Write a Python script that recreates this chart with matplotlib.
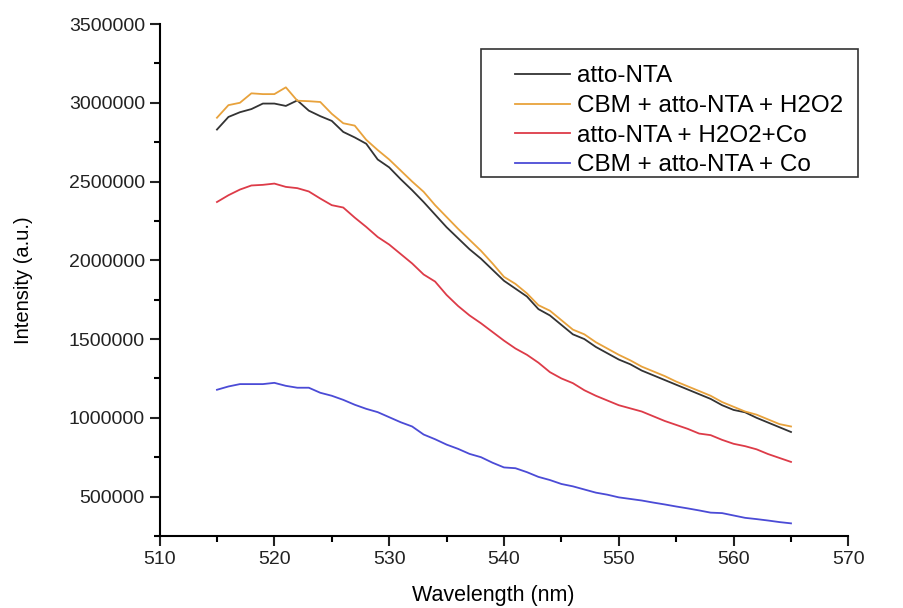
import matplotlib
matplotlib.use("Agg")
import matplotlib.pyplot as plt
from matplotlib.patches import Rectangle
from matplotlib.ticker import MultipleLocator, FuncFormatter

plt.rcParams['font.family'] = ['Liberation Sans', 'DejaVu Sans']

wavelength = list(range(515, 566))

atto_nta = [2830000, 2910000, 2940000, 2960000, 2995000, 2995000, 2980000, 3015000, 2950000, 2915000,
            2885000, 2815000, 2780000, 2740000, 2640000, 2590000, 2515000, 2445000, 2370000, 2290000,
            2210000, 2140000, 2070000, 2010000, 1940000, 1870000, 1820000, 1770000, 1690000, 1650000,
            1590000, 1530000, 1500000, 1450000, 1410000, 1370000, 1340000, 1300000, 1270000, 1240000,
            1210000, 1180000, 1150000, 1120000, 1080000, 1050000, 1035000, 1000000, 970000, 940000,
            910000]

cbm_h2o2 = [2905000, 2985000, 3000000, 3060000, 3055000, 3055000, 3098000, 3013000, 3010000, 3005000,
            2930000, 2870000, 2855000, 2765000, 2700000, 2640000, 2570000, 2500000, 2435000, 2350000,
            2275000, 2200000, 2130000, 2060000, 1980000, 1895000, 1850000, 1790000, 1715000, 1680000,
            1620000, 1560000, 1530000, 1480000, 1440000, 1400000, 1365000, 1325000, 1295000, 1265000,
            1230000, 1200000, 1170000, 1140000, 1100000, 1070000, 1040000, 1020000, 990000, 960000,
            945000]

nta_h2o2_co = [2370000, 2413000, 2449000, 2475000, 2479000, 2487000, 2466000, 2458000, 2437000, 2392000,
               2350000, 2335000, 2271000, 2212000, 2148000, 2100000, 2040000, 1980000, 1910000, 1865000,
               1780000, 1710000, 1650000, 1600000, 1545000, 1490000, 1440000, 1400000, 1350000, 1290000,
               1250000, 1220000, 1175000, 1140000, 1110000, 1080000, 1060000, 1040000, 1010000, 980000,
               955000, 930000, 900000, 890000, 860000, 835000, 820000, 800000, 770000, 745000,
               720000]

cbm_co = [1178000, 1199000, 1214000, 1214000, 1214000, 1222000, 1203000, 1191000, 1191000, 1159000,
          1140000, 1114000, 1083000, 1057000, 1036000, 1004000, 972000, 945000, 894000, 864000,
          830000, 803000, 771000, 750000, 715000, 685000, 680000, 655000, 625000, 605000,
          580000, 565000, 545000, 525000, 512000, 495000, 485000, 475000, 462000, 450000,
          437000, 425000, 412000, 398000, 395000, 380000, 365000, 357000, 348000, 338000,
          330000]

labels = ["atto-NTA", "CBM + atto-NTA + H2O2", "atto-NTA + H2O2+Co", "CBM + atto-NTA + Co"]
colors = ["#333333", "#E8A23C", "#DD3B48", "#4B4BD6"]

fig = plt.figure(figsize=(9.04, 6.08), dpi=100)
ax = fig.add_axes([0.1765, 0.1185, 0.762, 0.842])

for ys, lab, c in zip([atto_nta, cbm_h2o2, nta_h2o2_co, cbm_co], labels, colors):
    ax.plot(wavelength, ys, color=c, lw=1.3, label=lab)

ax.set_xlim(510, 570)
ax.set_ylim(250000, 3500000)
ax.xaxis.set_major_locator(MultipleLocator(10))
ax.xaxis.set_minor_locator(MultipleLocator(5))
ax.yaxis.set_major_locator(MultipleLocator(500000))
ax.yaxis.set_minor_locator(MultipleLocator(250000))
ax.yaxis.set_major_formatter(FuncFormatter(lambda v, p: "%d" % v))

ax.spines['top'].set_visible(False)
ax.spines['right'].set_visible(False)
ax.spines['left'].set_linewidth(1.5)
ax.spines['bottom'].set_linewidth(1.5)
ax.tick_params(which='major', direction='out', length=7, width=1.5, labelsize=14, colors='#222222')
ax.tick_params(which='minor', direction='out', length=4, width=1.5)

ax.set_xlabel("Wavelength (nm)", fontsize=15.5)
ax.xaxis.set_label_coords(0.484, -0.096)
ax.set_ylabel("Intensity (a.u.)", fontsize=14.5, labelpad=26)

# legend box drawn by hand so the left padding matches
ax.add_patch(Rectangle((0.4668, 0.701), 0.5473, 0.25, transform=ax.transAxes, fill=False,
                       edgecolor='#333333', lw=1.2, clip_on=False))
leg = ax.legend(loc='upper left', bbox_to_anchor=(0.516, 0.919), borderaxespad=0, borderpad=0,
                fontsize=17.5, frameon=False, handlelength=2.25, handletextpad=0.3,
                labelspacing=0.31)

fig.savefig("out.png", dpi=100)
